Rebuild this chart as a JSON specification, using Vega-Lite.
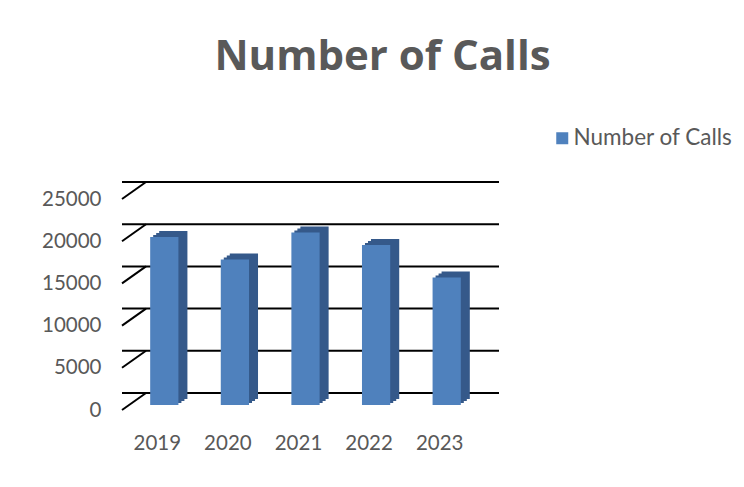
{
  "$schema": "https://vega.github.io/schema/vega-lite/v6.json",
  "autosize": "none",
  "width": 353,
  "height": 211,
  "padding": {"left": 122, "top": 199, "right": 269, "bottom": 77},
  "background": "white",
  "title": {
    "text": "Number of Calls",
    "font": "Open Sans",
    "fontSize": 42,
    "fontWeight": 700,
    "color": "#595959",
    "anchor": "middle",
    "frame": "group",
    "baseline": "alphabetic",
    "dx": 84,
    "offset": 15
  },
  "config": {
    "view": {"stroke": null},
    "axis": {"labelFont": "Lato", "labelFontSize": 20.5, "labelColor": "#595959", "ticks": false, "domain": false, "grid": false, "title": null},
    "legend": {"labelFont": "Lato", "labelFontSize": 22.5, "labelColor": "#595959"}
  },
  "datasets": {
    "bars": [
      {"year": "2019", "calls": 19900},
      {"year": "2020", "calls": 17250},
      {"year": "2021", "calls": 20450},
      {"year": "2022", "calls": 18950},
      {"year": "2023", "calls": 15100}
    ],
    "grid": [
      {"v": 0}, {"v": 5000}, {"v": 10000}, {"v": 15000}, {"v": 20000}, {"v": 25000}
    ]
  },
  "layer": [
    {
      "data": {"name": "grid"},
      "mark": {"type": "rule", "color": "black", "strokeWidth": 2, "xOffset": 24, "x2Offset": 24, "yOffset": -17},
      "encoding": {
        "y": {"field": "v", "type": "quantitative", "scale": {"domain": [0, 25000], "nice": false}, "axis": {"values": [0, 5000, 10000, 15000, 20000, 25000], "format": "d", "labelPadding": 21}}
      }
    },
    {
      "data": {"name": "grid"},
      "mark": {"type": "rule", "color": "black", "strokeWidth": 2, "x2Offset": 24, "y2Offset": -17},
      "encoding": {
        "x": {"value": 0},
        "x2": {"value": 0},
        "y": {"field": "v", "type": "quantitative"},
        "y2": {"field": "v"}
      }
    },
    {
      "data": {"name": "bars"},
      "mark": {"type": "bar", "color": "#35598A", "xOffset": 10, "yOffset": -7, "y2Offset": -7},
      "encoding": {
        "x": {"field": "year", "type": "nominal", "scale": {"paddingInner": 0.6, "paddingOuter": 0.3}, "axis": {"labelAngle": 0, "labelPadding": 23}},
        "y": {"field": "calls", "type": "quantitative"}
      }
    },
    {
      "data": {"name": "bars"},
      "mark": {"type": "bar", "color": "#35598A", "xOffset": 13, "yOffset": -9, "y2Offset": -9},
      "encoding": {
        "x": {"field": "year", "type": "nominal"},
        "y": {"field": "calls", "type": "quantitative"}
      }
    },
    {
      "data": {"name": "bars"},
      "mark": {"type": "bar", "color": "#35598A", "xOffset": 16, "yOffset": -11, "y2Offset": -11},
      "encoding": {
        "x": {"field": "year", "type": "nominal"},
        "y": {"field": "calls", "type": "quantitative"}
      }
    },
    {
      "data": {"name": "bars"},
      "mark": {"type": "bar", "xOffset": 7, "yOffset": -5, "y2Offset": -5},
      "encoding": {
        "x": {"field": "year", "type": "nominal"},
        "y": {"field": "calls", "type": "quantitative"},
        "color": {
          "datum": "Number of Calls",
          "type": "nominal",
          "scale": {"range": ["#4F81BD"]},
          "legend": {"orient": "none", "legendX": 429, "legendY": -72, "title": null, "symbolType": "square", "symbolSize": 144, "symbolStrokeWidth": 0, "labelOffset": 0}
        }
      }
    }
  ]
}
